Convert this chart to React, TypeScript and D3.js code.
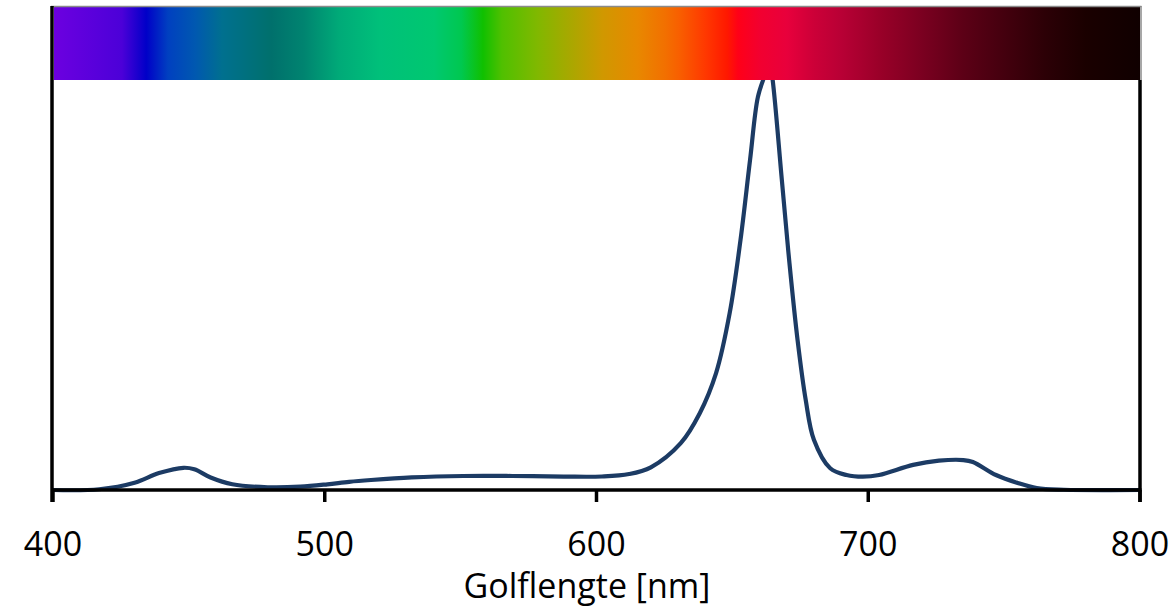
import React from 'react';
import * as d3 from 'd3';

// spectrum (relative intensity, 0..1)
const wavelengths = [
  400, 417, 430, 439, 448, 452, 458, 466, 479, 491, 501, 509, 517, 532, 551, 569, 588, 602,
  612, 620, 631, 638, 644, 649, 653, 656.5, 659.4, 662, 663.6, 664.8, 668.2, 671, 674, 677,
  680, 686, 692, 698, 704, 716.5, 726, 735, 738.5, 747, 755, 762, 772, 800,
];
const intensity = [
  0, 0.0015, 0.015, 0.035, 0.046, 0.043, 0.026, 0.012, 0.0056, 0.0068, 0.0118, 0.017, 0.0207,
  0.026, 0.029, 0.029, 0.0278, 0.028, 0.033, 0.047, 0.097, 0.159, 0.242, 0.366, 0.518, 0.683,
  0.814, 0.86, 0.89, 0.85, 0.642, 0.47, 0.31, 0.186, 0.104, 0.045, 0.031, 0.0275, 0.031, 0.052,
  0.0607, 0.062, 0.058, 0.031, 0.0145, 0.004, 0.0005, 0,
];

const xTicks = [400, 500, 600, 700, 800];

// colour bar stops
const stopWl = [
  400, 425, 434, 442, 452, 462, 480, 492, 505, 520, 540, 550, 558, 565, 578, 590, 602, 615, 625,
  630, 640, 648, 652, 660, 670, 680, 690, 705, 720, 735, 750, 765, 780, 800,
];
const stopColor = [
  '#6c00e0', '#4c00d8', '#0000c8', '#0040c0', '#0058b0', '#00708f', '#00706c', '#008470',
  '#00aa78', '#00c07a', '#00c870', '#00c850', '#10c000', '#50c000', '#80b800', '#a8a800',
  '#d09800', '#e88800', '#f27000', '#f86000', '#ff3800', '#ff1800', '#ff0018', '#f20030',
  '#e8003c', '#cc0038', '#b80035', '#980028', '#7a0020', '#5c0016', '#44000e', '#2c0006',
  '#1a0000', '#100000',
];

const W = 1176;
const H = 607;
const left = 53, right = 1140, top = 7, bottom = 490;
const barBottom = 80;

export default function App() {
  const x = d3.scaleLinear().domain([400, 800]).range([left, right]);
  const y = d3.scaleLinear().domain([0, 1]).range([bottom, top]);
  const pts = wavelengths.map((w, i) => [w, intensity[i]] as [number, number]);
  const line = d3.line<[number, number]>()
    .x(d => x(d[0]))
    .y(d => Math.min(bottom, y(d[1])))
    .curve(d3.curveCatmullRom.alpha(0.5));
  const font = "'Open Sans', 'Noto Sans', sans-serif";

  return (
    <svg width={W} height={H} style={{ position: 'absolute', left: 0, top: 0, background: '#fff' }}>
      <defs>
        <linearGradient id="spec" x1="0" x2="1" y1="0" y2="0">
          {stopWl.map((w, i) => (
            <stop key={i} offset={(w - 400) / 400} stopColor={stopColor[i]} />
          ))}
        </linearGradient>
      </defs>

      <path d={line(pts) || ''} fill="none" stroke="#1c3b64" strokeWidth={4.2} strokeLinejoin="round" />

      {/* colour bar covers the peak */}
      <rect x={x(400) + 1} y={top} width={x(800) - x(400) - 1} height={barBottom - top} fill="url(#spec)" />
      <line x1={left - 2} x2={right + 1.5} y1={top - 0.5} y2={top - 0.5} stroke="#8a8a8a" strokeWidth={1.5} />
      <line x1={right + 1} x2={right + 1} y1={top - 1} y2={barBottom} stroke="#8a8a8a" strokeWidth={1.5} />

      {/* axes */}
      <line x1={left - 1} x2={left - 1} y1={top - 1} y2={bottom + 12} stroke="#000" strokeWidth={3.5} />
      <line x1={right} x2={right} y1={barBottom} y2={bottom + 12} stroke="#000" strokeWidth={3.5} />
      <line x1={left - 2} x2={right + 1.5} y1={bottom} y2={bottom} stroke="#000" strokeWidth={3.5} />
      {xTicks.map(t => (
        <g key={t}>
          <line x1={x(t)} x2={x(t)} y1={bottom} y2={bottom + 12} stroke="#000" strokeWidth={3.5} />
          <text x={x(t)} y={556} textAnchor="middle" fontFamily={font} fontSize={34} fill="#000">{t}</text>
        </g>
      ))}
      <text x={587} y={598} textAnchor="middle" fontFamily={font} fontSize={34} fill="#000">Golflengte [nm]</text>
    </svg>
  );
}
